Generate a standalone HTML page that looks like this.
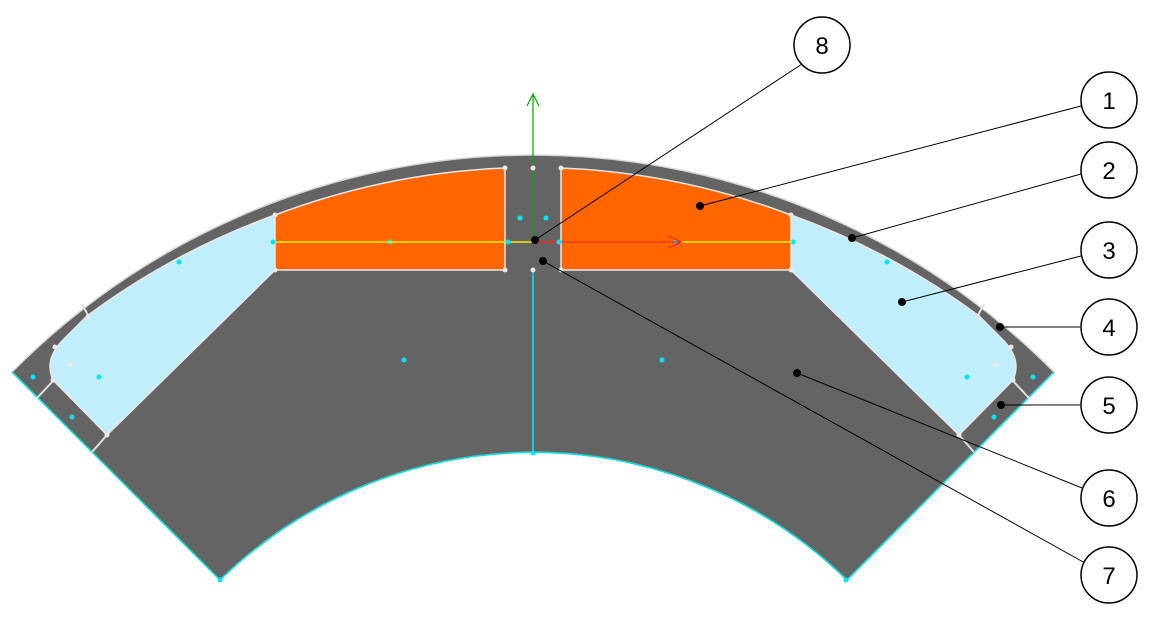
<!DOCTYPE html>
<html><head><meta charset="utf-8"><style>
html,body{margin:0;padding:0;background:#fff;}
svg{display:block;}
text{font-family:"Liberation Sans",sans-serif;font-size:24px;}
</style></head><body>
<svg width="1165" height="618" viewBox="0 0 1165 618" xmlns="http://www.w3.org/2000/svg">
<path d="M220,580 L12,372 A734,734 0 0 1 1054,372 L847,580 A449,449 0 0 0 220,580 Z" fill="#646464" stroke="#d8d8d8" stroke-width="1.5"/>
<path d="M220,580 L12,372" stroke="#00e0e0" stroke-width="1.5"/>
<path d="M847,580 L1054,372" stroke="#00e0e0" stroke-width="1.5"/>
<path d="M220,580 A449,449 0 0 1 847,580" fill="none" stroke="#00e0e0" stroke-width="1.5"/>
<g id="L">
<path d="M275,270 L275,215 A734,734 0 0 0 87,316 L62,341 Q44,360 53,380 L107,435 Z" fill="#c0eefc" stroke="#e8e8e8" stroke-width="1.5"/>
<path d="M275,270 L275,215 A734,734 0 0 1 505,168 L505,270 Z" fill="#ff6600" stroke="#e8e8e8" stroke-width="1.5"/>
<line x1="82" y1="304" x2="89" y2="317" stroke="#e0e0e0" stroke-width="2"/>
<line x1="37" y1="398" x2="53" y2="381" stroke="#e0e0e0" stroke-width="2"/>
<line x1="92" y1="452" x2="107" y2="435" stroke="#e0e0e0" stroke-width="2"/>
<g fill="#00e5ff"><circle cx="33" cy="377" r="2.5"/><circle cx="99" cy="377" r="2.5"/><circle cx="72" cy="417" r="2.5"/><circle cx="179" cy="262" r="2.5"/><circle cx="404" cy="360" r="2.5"/><circle cx="390" cy="242" r="2.5"/><circle cx="273" cy="242" r="2.5"/><circle cx="520" cy="218" r="2.5"/><circle cx="220" cy="580" r="2.5"/></g>
<g fill="#e8e8e8"><circle cx="70" cy="365" r="2.5"/><circle cx="275" cy="215" r="2.5"/><circle cx="275" cy="270" r="2.5"/><circle cx="505" cy="168" r="2.5"/><circle cx="505" cy="270" r="2.5"/><circle cx="107" cy="435" r="2.5"/><circle cx="88" cy="317" r="2.5"/><circle cx="55" cy="347" r="2.5"/><circle cx="53" cy="380" r="2.5"/></g>
</g>
<use href="#L" transform="translate(1066,0) scale(-1,1)"/>
<line x1="533" y1="270" x2="533" y2="453" stroke="#00e5ff" stroke-width="1.5"/>
<line x1="533" y1="95" x2="533" y2="242" stroke="#00aa00" stroke-width="1.2"/>
<path d="M527,106 L533,94 L539,106" fill="none" stroke="#00aa00" stroke-width="1.2"/>
<line x1="275" y1="242" x2="533" y2="242" stroke="#ffee00" stroke-width="1.5"/>
<line x1="560" y1="242" x2="792" y2="242" stroke="#ffee00" stroke-width="1.5"/>
<line x1="533" y1="242" x2="680" y2="242" stroke="#ff2020" stroke-width="1.5"/>
<path d="M668,236 L681,242 L668,248" fill="none" stroke="#ff2020" stroke-width="1.2"/>
<g fill="#00e5ff"><circle cx="533" cy="453" r="2.5"/><circle cx="508" cy="242" r="2.5"/><circle cx="559" cy="242" r="2.5"/></g>
<g fill="#e8e8e8"><circle cx="533" cy="168" r="2.5"/><circle cx="533" cy="270" r="2.5"/></g>
<g stroke="#000" stroke-width="1">
<line x1="535" y1="240" x2="802" y2="64"/>
<line x1="700" y1="206" x2="1081" y2="106"/>
<line x1="852" y1="238" x2="1081" y2="174"/>
<line x1="902" y1="302" x2="1081" y2="256"/>
<line x1="1000" y1="327" x2="1080" y2="327"/>
<line x1="1001" y1="405" x2="1080" y2="405"/>
<line x1="797" y1="373" x2="1082" y2="488"/>
<line x1="543" y1="261" x2="1085" y2="563"/>
</g>
<g fill="#000"><circle cx="535" cy="240" r="4"/><circle cx="543" cy="261" r="4"/><circle cx="700" cy="206" r="4"/><circle cx="852" cy="238" r="4"/><circle cx="902" cy="302" r="4"/><circle cx="1000" cy="327" r="4"/><circle cx="1001" cy="405" r="4"/><circle cx="797" cy="373" r="4"/></g>
<g fill="#fff" stroke="#000" stroke-width="1.5">
<circle cx="822" cy="45" r="28"/><circle cx="1109" cy="100" r="28"/><circle cx="1109" cy="170" r="28"/><circle cx="1109" cy="250" r="28"/><circle cx="1109" cy="327" r="28"/><circle cx="1109" cy="405" r="28"/><circle cx="1109" cy="498" r="28"/><circle cx="1109" cy="575" r="28"/>
</g>
<g text-anchor="middle" fill="#000">
<text x="822" y="54">8</text><text x="1109" y="109">1</text><text x="1109" y="179">2</text><text x="1109" y="259">3</text><text x="1109" y="336">4</text><text x="1109" y="414">5</text><text x="1109" y="507">6</text><text x="1109" y="584">7</text>
</g>
</svg>
</body></html>
